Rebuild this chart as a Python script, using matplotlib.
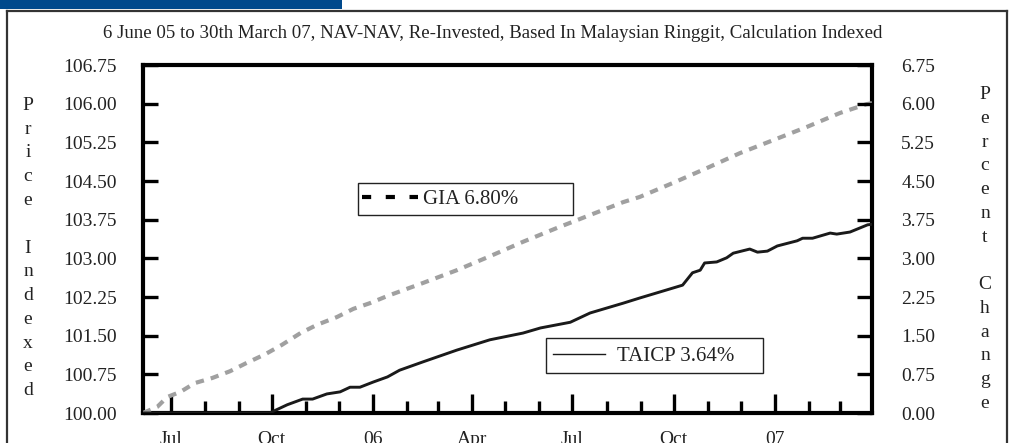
import datetime as dt
import numpy as np
import matplotlib
matplotlib.use("Agg")
import matplotlib.pyplot as plt
import matplotlib.dates as mdates
from matplotlib.lines import Line2D
from matplotlib.patches import Rectangle

# ---------------- data ----------------
start_date = dt.date(2005, 6, 6)
end_date = dt.date(2007, 3, 30)

gia_day = [0, 13, 22, 34, 47, 63, 79, 94, 111, 126, 143, 158, 176, 191, 206, 222,
           254, 285, 315, 345, 376, 406, 436, 451, 481, 512, 542, 572, 603, 633, 657, 662]
gia_val = [100.00, 100.12, 100.31, 100.41, 100.58, 100.68, 100.81, 100.97, 101.14, 101.32,
           101.55, 101.71, 101.86, 102.02, 102.13, 102.27, 102.52, 102.77, 103.04, 103.32,
           103.59, 103.84, 104.09, 104.19, 104.46, 104.75, 105.04, 105.29, 105.55, 105.82,
           105.99, 106.01]

taicp_day = [0, 115, 131, 145, 154, 167, 179, 188, 197, 209, 222, 233, 254, 285, 315, 345,
             361, 388, 406, 436, 451, 476, 490, 499, 506, 510, 521, 530, 536, 551, 558, 567,
             576, 594, 599, 608, 624, 630, 642, 658, 662]
taicp_val = [100.00, 100.00, 100.16, 100.27, 100.27, 100.37, 100.41, 100.50, 100.50, 100.60,
             100.70, 100.83, 100.99, 101.22, 101.42, 101.55, 101.65, 101.76, 101.94, 102.13,
             102.23, 102.39, 102.48, 102.72, 102.77, 102.91, 102.93, 103.01, 103.10, 103.18,
             103.12, 103.14, 103.24, 103.34, 103.39, 103.39, 103.49, 103.47, 103.51, 103.65,
             103.66]

left_ticks = [100.00, 100.75, 101.50, 102.25, 103.00, 103.75, 104.50, 105.25, 106.00, 106.75]
right_ticks = [0.00, 0.75, 1.50, 2.25, 3.00, 3.75, 4.50, 5.25, 6.00, 6.75]

title_text = ("6 June 05 to 30th March 07, NAV-NAV, Re-Invested, Based In Malaysian Ringgit, "
              "Calculation Indexed")
left_label = "Price Indexed"
right_label = "Percent Change"
gia_label = "GIA 6.80%"
taicp_label = "TAICP 3.64%"

# ---------------- figure ----------------
plt.rcParams['font.family'] = ['Liberation Serif', 'DejaVu Serif']
W, H = 1011, 443
TXT = '#222222'
fig = plt.figure(figsize=(W / 100, H / 100), dpi=100)
fig.patch.set_facecolor('white')

# decoration: blue header tab and frame
fig.patches.append(Rectangle((0, 1 - 9 / H), 342 / W, 9 / H, transform=fig.transFigure,
                             facecolor='#00498C', edgecolor='none', zorder=0))
for xs, ys in [([7, 7], [443, 11]), ([7, 1007], [11, 11]), ([1007, 1007], [11, 443])]:
    fig.add_artist(Line2D([x / W for x in xs], [1 - y / H for y in ys],
                          transform=fig.transFigure, color='#333333', lw=1.6))

fig.text(493 / W, 1 - 33 / H, title_text, ha='center', va='center', fontsize=13.6,
         color=TXT)

ax = fig.add_axes([143 / W, 30 / H, 729 / W, 348 / H])

gia_dates = [start_date + dt.timedelta(days=d) for d in gia_day]
taicp_dates = [start_date + dt.timedelta(days=d) for d in taicp_day]

ax.plot(gia_dates, gia_val, color='#A0A0A0', lw=3.0, dashes=(2.0, 1.7),
        solid_capstyle='butt', dash_capstyle='butt', zorder=3)
ax.plot(taicp_dates, taicp_val, color='#1A1A1A', lw=2.1, zorder=4)

ax.set_xlim(start_date, end_date)
ax.set_ylim(100.0, 106.75)
ax.set_yticks(left_ticks)
ax.set_yticklabels([f"{v:.2f}" for v in left_ticks])

for s in ax.spines.values():
    s.set_linewidth(3.0)
    s.set_color('black')

ax.tick_params(axis='y', direction='in', length=11, width=2.4, pad=19,
               labelsize=14, labelcolor=TXT)

ax.xaxis.set_major_locator(mdates.MonthLocator(bymonth=[1, 4, 7, 10]))
ax.xaxis.set_minor_locator(mdates.MonthLocator())


def fmt(x, pos=None):
    d = mdates.num2date(x)
    return d.strftime('%y') if d.month == 1 else d.strftime('%b')


ax.xaxis.set_major_formatter(plt.FuncFormatter(fmt))
ax.tick_params(axis='x', which='major', direction='in', length=11, width=2.4, pad=13,
               labelsize=14, labelcolor=TXT)
ax.tick_params(axis='x', which='minor', direction='in', length=8.5, width=2.4)

# longer ticks at the year boundaries
for t in ax.xaxis.get_major_ticks():
    loc = t.get_loc()
    if loc is not None and mdates.num2date(loc).month == 1:
        t.tick1line.set_markersize(14)

ax2 = ax.twinx()
ax2.set_ylim(0.0, 6.75)
ax2.set_yticks(right_ticks)
ax2.set_yticklabels([f"{v:.2f}" for v in right_ticks])
ax2.tick_params(axis='y', direction='in', length=11, width=2.4, pad=21,
                labelsize=14, labelcolor=TXT)
for s in ax2.spines.values():
    s.set_visible(False)

# stacked vertical axis titles
fig.text(28 / W, 1 - 248 / H, "\n".join(left_label), ha='center', va='center',
         fontsize=14, linespacing=1.52, color=TXT)
fig.text(985 / W, 1 - 249 / H, "\n".join(right_label), ha='center', va='center',
         fontsize=14, linespacing=1.52, color=TXT)


def ax_frac(px, py):
    return (px - 143) / 729, (413 - py) / 348


# legends (boxes drawn as plain rectangles)
h_gia = Line2D([], [], color='black', lw=3.0, dashes=(2.2, 3.5), dash_capstyle='butt')
h_taicp = Line2D([], [], color='#1A1A1A', lw=1.0)
leg1 = ax.legend([h_gia], [gia_label], loc='center left', bbox_to_anchor=ax_frac(362, 199),
                 frameon=False, fontsize=15, handlelength=2.69, handletextpad=0.24,
                 borderpad=0, borderaxespad=0, labelcolor=TXT)
ax.add_artist(leg1)
leg2 = ax.legend([h_taicp], [taicp_label], loc='center left', bbox_to_anchor=ax_frac(553, 356),
                 frameon=False, fontsize=15, handlelength=2.5, handletextpad=0.58,
                 borderpad=0, borderaxespad=0, labelcolor=TXT)

for (x0, y0, x1, y1) in [(358, 183, 573, 215), (546, 338, 763, 373)]:
    fx0, fy1 = ax_frac(x0, y0)
    fx1, fy0 = ax_frac(x1, y1)
    ax.add_patch(Rectangle((fx0, fy0), fx1 - fx0, fy1 - fy0, transform=ax.transAxes,
                           facecolor='white', edgecolor='#222222', lw=1.0, zorder=5))
leg1.set_zorder(6)
leg2.set_zorder(6)

fig.savefig('out.png', dpi=100)
